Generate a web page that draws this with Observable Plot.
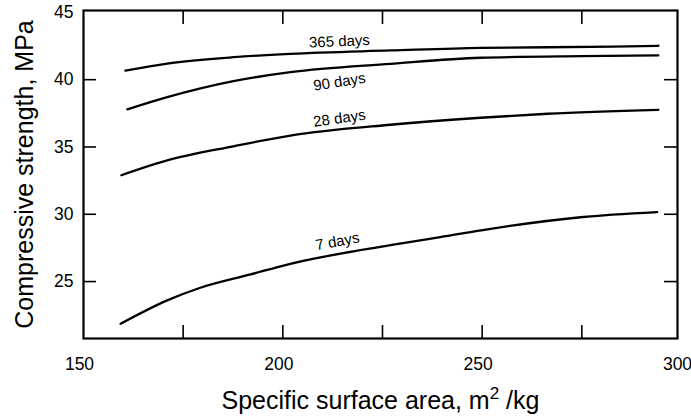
<!DOCTYPE html>
<html>
<head>
<meta charset="utf-8">
<script src="https://cdn.jsdelivr.net/npm/d3@7"></script>
<script src="https://cdn.jsdelivr.net/npm/@observablehq/plot@0.6"></script>
<style>
  html, body { margin: 0; padding: 0; background: #fff; }
  #chart { width: 691px; height: 416px; }
</style>
</head>
<body>
<div id="chart"></div>
<script>
// Specific surface area (m²/kg) and compressive strength (MPa)
const series = ["7 days", "28 days", "90 days", "365 days"];

const area7 = [159.3, 171.0, 179.3, 191.9, 201.9, 227.0, 239.5, 252.1, 274.7, 293.9];
const strength7 = [21.86, 23.60, 24.54, 25.53, 26.32, 27.70, 28.30, 28.92, 29.78, 30.16];

const area28 = [159.5, 171.0, 187.6, 201.9, 227.0, 249.6, 266.4, 294.2];
const strength28 = [32.90, 34.00, 35.05, 35.85, 36.65, 37.17, 37.47, 37.76];

const area90 = [161.0, 171.0, 187.6, 201.9, 227.0, 249.6, 274.7, 294.2];
const strength90 = [37.79, 38.70, 39.89, 40.56, 41.18, 41.63, 41.75, 41.80];

const area365 = [160.5, 171.0, 187.6, 201.9, 227.0, 249.6, 282.9, 294.2];
const strength365 = [40.68, 41.20, 41.67, 41.92, 42.17, 42.37, 42.45, 42.52];

// Curve labels (data coordinates) and their slant
const labelText = ["365 days", "90 days", "28 days", "7 days"];
const labelArea = [214.2, 214.2, 214.2, 213.7];
const labelStrength = [42.84, 39.83, 37.12, 27.98];
const labelAngle = [-2.5, -9, -8, -10.5];

// Tick values
const xTickLabels = [150, 200, 250, 300];
const xTickMarks = [175, 200, 225, 250, 275];
const yTickLabels = [25, 30, 35, 40, 45];
const yTickMarks = [25, 30, 35, 40];

const xTitle = "Specific surface area, m";
const xTitleSup = "2";
const xTitleEnd = " /kg";
const yTitle = "Compressive strength, MPa";

// Build the long table
const areas = [area7, area28, area90, area365];
const strengths = [strength7, strength28, strength90, strength365];
const rows = [];
series.forEach((s, i) => areas[i].forEach((a, j) => rows.push({series: s, area: a, strength: strengths[i][j]})));
const labels = labelText.map((t, i) => ({text: t, area: labelArea[i], strength: labelStrength[i], angle: labelAngle[i]}));

const W = 691, H = 416, mL = 83, mR = 14, mT = 10, mB = 78;
const fw = W - mL - mR, fh = H - mT - mB;
const font = "'Liberation Sans', Arial, Helvetica, sans-serif";

const chart = Plot.plot({
  width: W,
  height: H,
  marginLeft: mL,
  marginRight: mR,
  marginTop: mT,
  marginBottom: mB,
  style: {fontFamily: font, color: "black", background: "white", fontSize: "18px"},
  x: {domain: [150, 299]},
  y: {domain: [20.77, 45.14]},
  marks: [
    Plot.axisX({ticks: xTickLabels, tickSize: 0, tickPadding: 19, fontSize: 17.5, dx: -4, label: null}),
    Plot.axisY({ticks: yTickLabels, tickSize: 0, tickPadding: 10, fontSize: 17.5, label: null}),
    Plot.tickX(xTickMarks, {x: d => d, insetTop: fh - 13, stroke: "black", strokeWidth: 1.6}),
    Plot.tickX(xTickMarks, {x: d => d, insetBottom: fh - 14, stroke: "black", strokeWidth: 1.6}),
    Plot.tickY(yTickMarks, {y: d => d, insetRight: fw - 13, stroke: "black", strokeWidth: 1.6}),
    Plot.tickY(yTickMarks, {y: d => d, insetLeft: fw - 13, stroke: "black", strokeWidth: 1.6}),
    Plot.line(rows, {x: "area", y: "strength", z: "series", stroke: "black", strokeWidth: 2.3, curve: "monotone-x"}),
    Plot.text(labels, {x: "area", y: "strength", text: "text", rotate: "angle", fontSize: 15, fill: "black"}),
    Plot.frame({stroke: "black", strokeWidth: 2.2}),
    Plot.text([yTitle], {frameAnchor: "left", text: d => d, rotate: -90, dx: -51, textAnchor: "middle", lineAnchor: "bottom", fontSize: 25, fill: "black"}),
    Plot.text([xTitle], {frameAnchor: "bottom", text: d => d, dy: 70, textAnchor: "middle", lineAnchor: "bottom", fontSize: 25, fill: "black"})
  ]
});

document.getElementById("chart").appendChild(chart);

// Superscript "2" and "/kg" in the x title
d3.select(chart).selectAll("text").filter(function() { return this.textContent === xTitle; }).each(function() {
  const t = d3.select(this);
  t.append("tspan").attr("dy", -10).attr("font-size", 17).text(xTitleSup);
  t.append("tspan").attr("dy", 10).attr("font-size", 25).text(xTitleEnd);
});
</script>
</body>
</html>
